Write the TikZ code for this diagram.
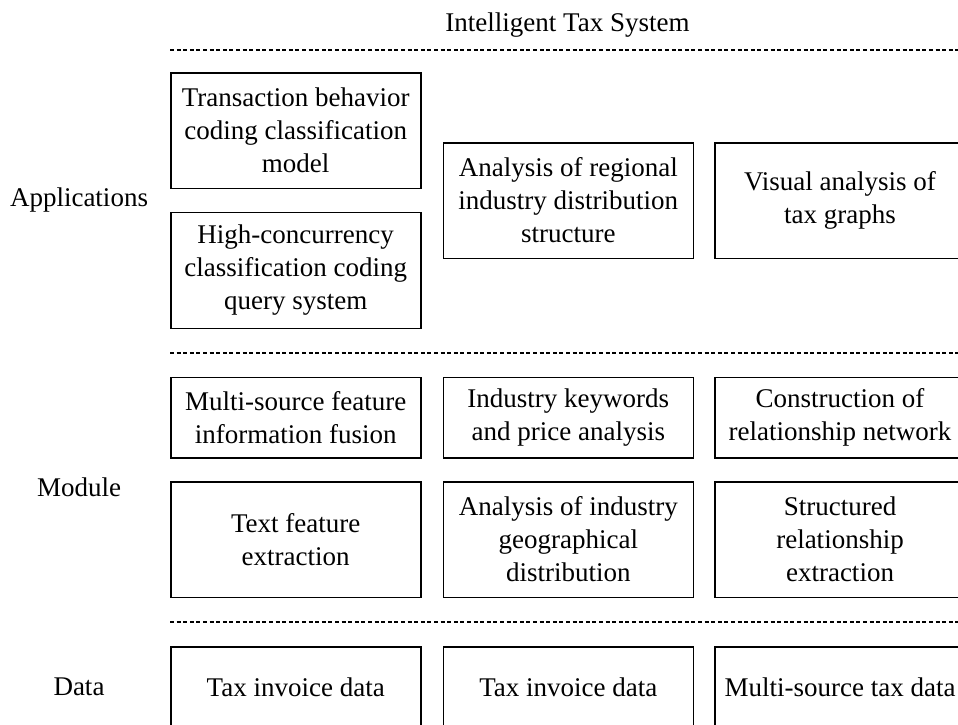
\documentclass[tikz,border=0pt]{standalone}
\usepackage{fontspec}
\setmainfont{Liberation Serif}
\begin{document}
\begin{tikzpicture}[x=1pt,y=-1pt,
  box/.style={draw=black,line width=1.6pt,rectangle,inner sep=0pt,minimum width=250pt,align=center,font=\fontsize{27}{33}\selectfont},
  lbl/.style={inner sep=0pt,font=\fontsize{27}{33}\selectfont},
  sep/.style={line width=1.6pt,dash pattern=on 4pt off 2.6pt}]
\useasboundingbox (0,0) rectangle (958,724);
\node[lbl] (title) at (567.5,25) {Intelligent Tax System};
\coordinate (s1a) at (170,50); \coordinate (s1b) at (965,50);
\coordinate (s2a) at (170,353); \coordinate (s2b) at (965,353);
\coordinate (s3a) at (170,622); \coordinate (s3b) at (965,622);
\draw[sep] (s1a) -- (s1b);
\draw[sep] (s2a) -- (s2b);
\draw[sep] (s3a) -- (s3b);
\node[lbl] (app) at (79,200) {Applications};
\node[lbl] (mod) at (79,487) {Module};
\node[lbl] (dat) at (79,687) {Data};
% applications
\node[box,minimum height=115.6pt] (a1) at (295.7,130.5) {Transaction behavior\\coding classification\\model};
\node[box,minimum height=116pt] (a2) at (295.7,270.3) {High-concurrency\\classification coding\\query system};
\node[box,minimum height=115.6pt] (a3) at (568.3,200.5) {Analysis of regional\\industry distribution\\structure};
\node[box,minimum height=115.6pt] (a4) at (840,200.5) {Visual analysis of\\tax graphs};
% module
\node[box,minimum height=80.4pt] (m1) at (295.7,417.5) {Multi-source feature\\information fusion};
\node[box,minimum height=80.4pt] (m2) at (568.3,417.5) {Industry keywords\\and price analysis};
\node[box,minimum height=80.4pt] (m3) at (840,417.5) {Construction of\\relationship network};
\node[box,minimum height=115.6pt] (m4) at (295.7,539.5) {Text feature\\extraction};
\node[box,minimum height=115.6pt] (m5) at (568.3,539.5) {Analysis of industry\\geographical\\distribution};
\node[box,minimum height=115.6pt] (m6) at (840,539.5) {Structured\\relationship\\extraction};
% data
\node[box,minimum height=80.6pt] (d1) at (295.7,687) {Tax invoice data};
\node[box,minimum height=80.6pt] (d2) at (568.3,687) {Tax invoice data};
\node[box,minimum height=80.6pt] (d3) at (840,687) {Multi-source tax data};
\end{tikzpicture}
\end{document}
